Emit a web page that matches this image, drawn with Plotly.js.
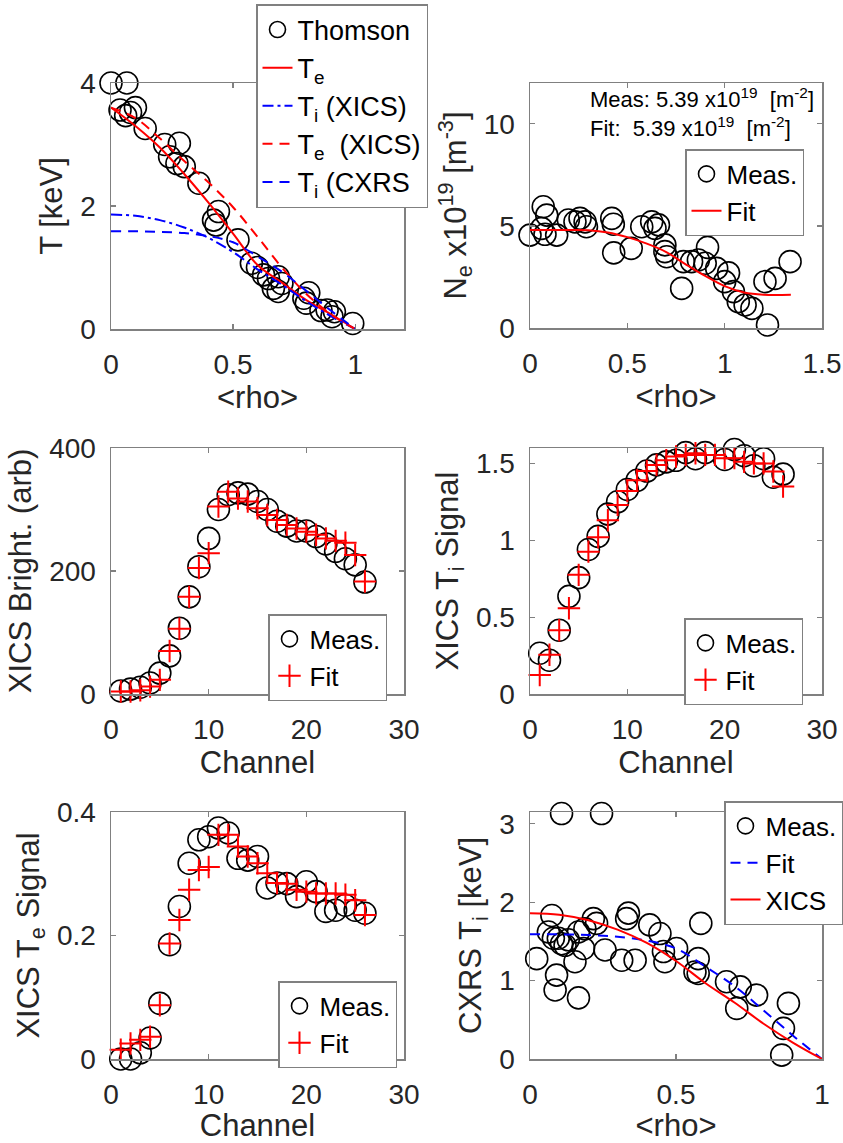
<!DOCTYPE html>
<html>
<head>
<meta charset="utf-8">
<script src="https://cdn.plot.ly/plotly-3.0.1.min.js"></script>
<style>html,body{margin:0;padding:0;background:#fff;}#chart{width:843px;height:1143px;}</style>
</head>
<body>
<div id="chart"></div>
<script>
// ---------- Panel 1: temperature profiles ----------
const thomsonRho = [0, 0.065, 0.037, 0.06, 0.08, 0.1, 0.14, 0.22, 0.28, 0.24, 0.27, 0.30, 0.36, 0.44, 0.42, 0.43, 0.52, 0.575, 0.6, 0.625, 0.645, 0.685, 0.70, 0.665, 0.685, 0.79, 0.81, 0.80, 0.86, 0.885, 0.915, 0.905, 0.99];
const thomsonTe  = [4.0, 4.0, 3.56, 3.47, 3.52, 3.6, 3.26, 3.0, 3.02, 2.8, 2.69, 2.64, 2.37, 1.91, 1.77, 1.69, 1.45, 1.07, 1.0, 0.88, 0.82, 0.85, 0.74, 0.66, 0.61, 0.5, 0.59, 0.42, 0.3, 0.31, 0.28, 0.2, 0.09];
const profRho = [0, 0.1, 0.2, 0.3, 0.4, 0.5, 0.6, 0.7, 0.8, 0.9, 1.0];
const teFit   = [3.6, 3.3, 2.95, 2.52, 2.05, 1.55, 1.04, 0.755, 0.47, 0.24, 0.0];
const teXics  = [3.6, 3.43, 3.1, 2.73, 2.38, 1.98, 1.5, 1.0, 0.57, 0.24, 0.0];
const tiXics  = [1.86, 1.84, 1.77, 1.65, 1.48, 1.25, 0.97, 0.72, 0.45, 0.21, 0.0];
const tiCxrs  = [1.59, 1.59, 1.58, 1.56, 1.51, 1.41, 1.18, 0.93, 0.62, 0.30, 0.0];

// ---------- Panel 2: density ----------
const neRho = [0, 0.068, 0.086, 0.06, 0.077, 0.137, 0.197, 0.231, 0.257, 0.283, 0.29, 0.42, 0.428, 0.43, 0.52, 0.574, 0.625, 0.642, 0.66, 0.693, 0.693, 0.702, 0.779, 0.788, 0.83, 0.865, 0.9, 0.912, 0.959, 1.0, 1.02, 1.045, 1.07, 1.105, 1.14, 1.207, 1.22, 1.259, 1.336];
const neMeas = [4.55, 5.94, 5.53, 4.88, 4.59, 4.55, 5.29, 5.2, 5.37, 5.2, 4.96, 5.37, 5.08, 3.68, 3.9, 4.96, 5.2, 4.88, 5.05, 4.07, 3.74, 3.49, 1.94, 3.25, 3.25, 3.33, 3.17, 3.95, 2.92, 2.27, 2.7, 1.78, 1.29, 1.13, 0.96, 2.27, 0.15, 2.43, 3.25];
const neFitRho = [0, 0.1, 0.2, 0.3, 0.4, 0.5, 0.6, 0.7, 0.8, 0.9, 1.0, 1.1, 1.2, 1.34];
const neFit    = [4.8, 4.8, 4.8, 4.79, 4.68, 4.45, 4.13, 3.72, 3.12, 2.55, 2.05, 1.74, 1.63, 1.63];
const lineIntText = ['Meas: 5.39 x10<sup>19</sup>  [m<sup>-2</sup>]', 'Fit:  5.39 x10<sup>19</sup>  [m<sup>-2</sup>]'];

// ---------- Channel panels ----------
const channels = [1,2,3,4,5,6,7,8,9,10,11,12,13,14,15,16,17,18,19,20,21,22,23,24,25,26];
const brightMeas = [5, 8, 11, 18, 34, 62, 107, 158, 207, 253, 300, 324, 327, 325, 313, 300, 281, 273, 265, 265, 256, 244, 232, 220, 210, 182];
const brightFit  = [4, 4, 6, 12, 23, 70, 106, 158, 205, 229, 305, 329, 318, 313, 302, 291, 283, 275, 269, 264, 259, 253, 249, 246, 226, 183];
const tiSigMeas  = [0.265, 0.22, 0.415, 0.635, 0.757, 0.94, 1.025, 1.17, 1.25, 1.33, 1.39, 1.45, 1.49, 1.51, 1.52, 1.57, 1.53, 1.57, 1.625, 1.525, 1.59, 1.55, 1.485, 1.53, 1.41, 1.43];
const tiSigFit   = [0.124, 0.255, 0.415, 0.558, 0.775, 0.926, 1.02, 1.13, 1.23, 1.32, 1.39, 1.45, 1.49, 1.52, 1.545, 1.555, 1.566, 1.555, 1.555, 1.534, 1.534, 1.51, 1.50, 1.50, 1.447, 1.35];
const teSigMeas  = [0, 0, 0.01, 0.034, 0.09, 0.185, 0.247, 0.317, 0.355, 0.36, 0.374, 0.366, 0.325, 0.322, 0.328, 0.277, 0.285, 0.284, 0.263, 0.287, 0.271, 0.239, 0.241, 0.249, 0.241, 0.236];
const teSigFit   = [0.015, 0.025, 0.031, 0.036, 0.087, 0.187, 0.225, 0.274, 0.306, 0.311, 0.363, 0.363, 0.344, 0.328, 0.317, 0.301, 0.285, 0.284, 0.274, 0.271, 0.268, 0.268, 0.268, 0.266, 0.257, 0.233];

// ---------- Panel 6: CXRS Ti ----------
const cxrsRho = [0.108, 0.245, 0.023, 0.075, 0.063, 0.08, 0.097, 0.108, 0.091, 0.086, 0.166, 0.154, 0.183, 0.166, 0.188, 0.217, 0.228, 0.257, 0.314, 0.36, 0.331, 0.337, 0.41, 0.445, 0.462, 0.457, 0.502, 0.585, 0.576, 0.565, 0.576, 0.673, 0.72, 0.708, 0.776, 0.885, 0.868, 0.862, 0.131, 0.12];
const cxrsTi  = [3.13, 3.13, 1.28, 1.83, 1.62, 1.54, 1.54, 1.47, 1.07, 0.88, 0.78, 1.24, 1.41, 1.62, 1.66, 1.79, 1.73, 1.39, 1.26, 1.26, 1.79, 1.86, 1.71, 1.6, 1.24, 1.37, 1.41, 1.73, 1.28, 1.11, 1.09, 0.985, 0.92, 0.645, 0.815, 0.71, 0.39, 0.05, 1.52, 1.45];

// ---------- styling ----------
const FONT = 'Liberation Sans, Arial, Helvetica, sans-serif';
const circ = {symbol: 'circle-open', size: 22, color: '#000', line: {width: 1.6, color: '#000'}};
const cross = {symbol: 'cross-thin-open', size: 16, color: '#ff0000', line: {width: 2, color: '#ff0000'}};
const DASH = '10px,7px';
const DASHDOT = '11px,4px,3px,4px';

function pts(x, y, xa, ya, name, marker, legend) {
  return {type: 'scatter', mode: 'markers', x: x, y: y, xaxis: xa, yaxis: ya, name: name, marker: marker, legend: legend, cliponaxis: false};
}
function ln(x, y, xa, ya, name, color, dash, legend) {
  return {type: 'scatter', mode: 'lines', x: x, y: y, xaxis: xa, yaxis: ya, name: name, line: {color: color, width: 2, dash: dash, shape: 'spline'}, legend: legend, cliponaxis: false};
}

const traces = [
  pts(thomsonRho, thomsonTe, 'x', 'y', 'Thomson', circ, 'legend'),
  ln(profRho, teFit, 'x', 'y', 'T<sub>e</sub>', '#ff0000', 'solid', 'legend'),
  ln(profRho, tiXics, 'x', 'y', 'T<sub>i</sub> (XICS)', '#0000ff', DASHDOT, 'legend'),
  ln(profRho, teXics, 'x', 'y', 'T<sub>e</sub>  (XICS)', '#ff0000', DASH, 'legend'),
  ln(profRho, tiCxrs, 'x', 'y', 'T<sub>i</sub> (CXRS', '#0000ff', DASH, 'legend'),

  pts(neRho, neMeas, 'x2', 'y2', 'Meas.', circ, 'legend2'),
  ln(neFitRho, neFit, 'x2', 'y2', 'Fit', '#ff0000', 'solid', 'legend2'),

  pts(channels, brightMeas, 'x3', 'y3', 'Meas.', circ, 'legend3'),
  pts(channels, brightFit, 'x3', 'y3', 'Fit', cross, 'legend3'),

  pts(channels, tiSigMeas, 'x4', 'y4', 'Meas.', circ, 'legend4'),
  pts(channels, tiSigFit, 'x4', 'y4', 'Fit', cross, 'legend4'),

  pts(channels, teSigMeas, 'x5', 'y5', 'Meas.', circ, 'legend5'),
  pts(channels, teSigFit, 'x5', 'y5', 'Fit', cross, 'legend5'),

  pts(cxrsRho, cxrsTi, 'x6', 'y6', 'Meas.', circ, 'legend6'),
  ln(profRho, tiCxrs, 'x6', 'y6', 'Fit', '#0000ff', DASH, 'legend6'),
  ln(profRho, tiXics, 'x6', 'y6', 'XICS', '#ff0000', 'solid', 'legend6')
];

const W = 843, H = 1143;
const colL = [111 / W, 404 / W], colR = [530 / W, 822 / W];
const row1 = [1 - 329 / H, 1 - 83 / H], row1b = [1 - 328 / H, 1 - 83 / H];
const row2 = [1 - 694 / H, 1 - 448 / H];
const row3 = [1 - 1059 / H, 1 - 812 / H];

function axBase(extra) {
  return Object.assign({
    showline: true, linecolor: '#808080', linewidth: 1.5, mirror: 'ticks',
    ticks: 'inside', ticklen: 5, tickwidth: 1.2, tickcolor: '#808080',
    showgrid: false, zeroline: false, automargin: false,
    tickfont: {family: FONT, size: 28, color: '#262626'}
  }, extra);
}
function xax(domain, anchor, range, dtick, title) {
  return axBase({domain: domain, anchor: anchor, range: range, dtick: dtick, tick0: 0,
    ticklabelstandoff: 10,
    title: {text: title, font: {family: FONT, size: 31, color: '#262626'}, standoff: 4}});
}
function yax(domain, anchor, range, dtick, title, standoff) {
  return axBase({domain: domain, anchor: anchor, range: range, dtick: dtick, tick0: 0,
    ticklabelstandoff: 8,
    title: {text: title, font: {family: FONT, size: 31, color: '#262626'}, standoff: standoff}});
}
function leg(x, y, size, xanchor) {
  return {x: x, y: y, xref: 'paper', yref: 'paper', xanchor: xanchor || 'left', yanchor: 'top',
    bgcolor: '#ffffff', bordercolor: '#808080', borderwidth: 1.5,
    font: {family: FONT, size: size, color: '#000'}, itemsizing: 'trace', tracegroupgap: 0};
}

const layout = {
  width: W, height: H, margin: {l: 0, r: 0, t: 0, b: 0},
  paper_bgcolor: '#fff', plot_bgcolor: '#fff', showlegend: true,
  font: {family: FONT, color: '#262626'},
  xaxis:  xax(colL, 'y',  [0, 1.2], 0.5, '<rho>'),
  yaxis:  yax(row1, 'x',  [0, 4], 2, 'T [keV]', 8),
  xaxis2: xax(colR, 'y2', [0, 1.5], 0.5, '<rho>'),
  yaxis2: yax(row1b, 'x2', [0, 12], 5, 'N<sub>e</sub> x10<sup>19</sup> [m<sup>-3</sup>]', 8),
  xaxis3: xax(colL, 'y3', [0, 30], 10, 'Channel'),
  yaxis3: yax(row2, 'x3', [0, 400], 200, 'XICS Bright. (arb)', 8),
  xaxis4: xax(colR, 'y4', [0, 30], 10, 'Channel'),
  yaxis4: yax(row2, 'x4', [0, 1.6], 0.5, 'XICS T<sub>i</sub> Signal', 8),
  xaxis5: xax(colL, 'y5', [0, 30], 10, 'Channel'),
  yaxis5: yax(row3, 'x5', [0, 0.4], 0.2, 'XICS T<sub>e</sub> Signal', 8),
  xaxis6: xax(colR, 'y6', [0, 1], 0.5, '<rho>'),
  yaxis6: yax(row3, 'x6', [0, 3.15], 1, 'CXRS T<sub>i</sub> [keV]', 8),
  legend:  leg(256 / W, 1 - 4 / H, 27),
  legend2: leg(685 / W, 1 - 149 / H, 26),
  legend3: leg(268 / W, 1 - 614 / H, 26),
  legend4: leg(684 / W, 1 - 618 / H, 26),
  legend5: leg(278 / W, 1 - 981 / H, 26),
  legend6: leg(1, 1 - 801 / H, 26, 'right'),
  annotations: [{
    text: lineIntText.join('<br>'), xref: 'paper', yref: 'paper',
    x: 588 / W, y: 1 - 112 / H, xanchor: 'left', yanchor: 'middle', align: 'left',
    showarrow: false, font: {family: FONT, size: 22, color: '#000'}
  }]
};

Plotly.newPlot('chart', traces, layout, {displayModeBar: false, staticPlot: true});
</script>
</body>
</html>
